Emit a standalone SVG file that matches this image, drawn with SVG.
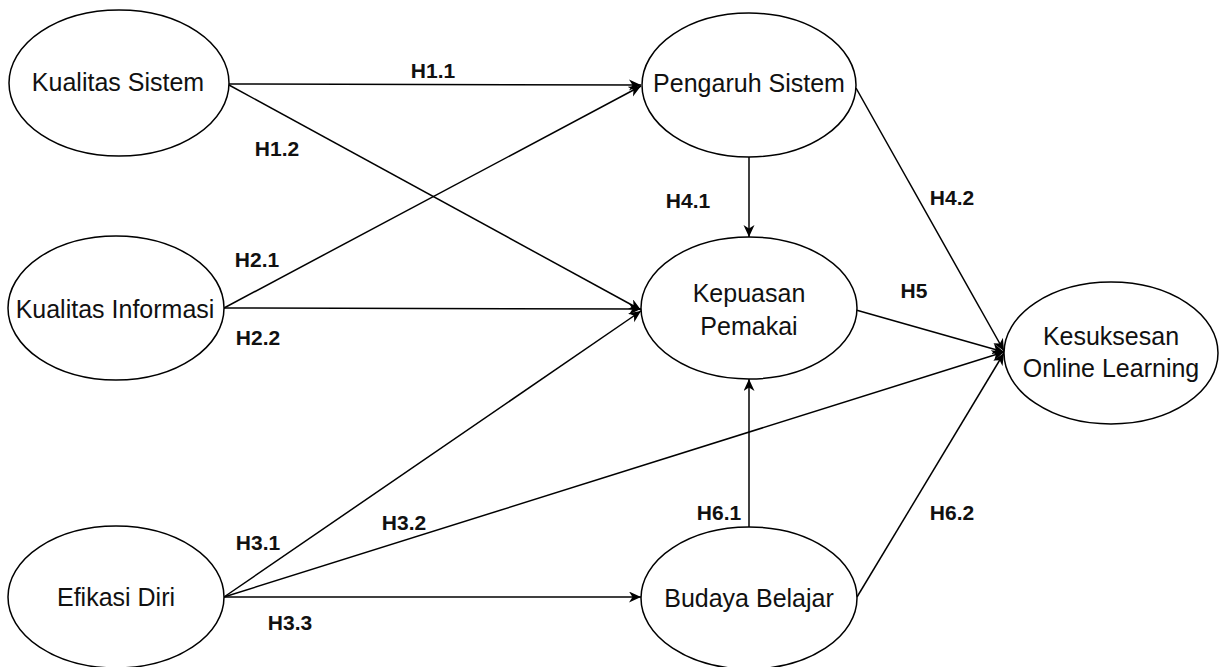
<svg xmlns="http://www.w3.org/2000/svg" width="1224" height="667" viewBox="0 0 1224 667">
  <style>
    .node ellipse { fill: #ffffff; stroke: #000000; stroke-width: 1.5; }
    .node text { font-family: "Liberation Sans", Arial, sans-serif; font-size: 25px; fill: #111111; text-anchor: middle; dominant-baseline: central; }
    .edge { fill: none; stroke: #000000; stroke-width: 1.5; marker-end: url(#arrow); }
    .lbl { font-family: "Liberation Sans", Arial, sans-serif; font-size: 21px; font-weight: bold; fill: #111111; text-anchor: middle; dominant-baseline: central; }
  </style>
  <defs>
    <marker id="arrow" markerUnits="userSpaceOnUse" markerWidth="14" markerHeight="12" refX="12" refY="5.5" orient="auto">
      <path d="M0,0 L12,5.5 L0,11 L3.5,5.5 z" fill="#000000"/>
    </marker>
  </defs>
  <rect width="1224" height="667" fill="#ffffff"/>

  <!-- connectors -->
  <g id="connectors">
    <line class="edge" x1="229" y1="84" x2="641" y2="85"/>
    <line class="edge" x1="229" y1="85" x2="641" y2="310"/>
    <line class="edge" x1="224" y1="308" x2="641" y2="86"/>
    <line class="edge" x1="224" y1="308" x2="641" y2="309"/>
    <line class="edge" x1="224" y1="597" x2="641" y2="311"/>
    <line class="edge" x1="224" y1="597" x2="1004" y2="352"/>
    <line class="edge" x1="224" y1="597" x2="641" y2="597"/>
    <line class="edge" x1="749" y1="156" x2="749" y2="237"/>
    <line class="edge" x1="856" y1="88" x2="1004" y2="351"/>
    <line class="edge" x1="856" y1="310" x2="1004" y2="352"/>
    <line class="edge" x1="749" y1="527" x2="749" y2="379"/>
    <line class="edge" x1="857" y1="597" x2="1004" y2="353"/>

    <text class="lbl" x="433" y="70">H1.1</text>
    <text class="lbl" x="277" y="148">H1.2</text>
    <text class="lbl" x="257" y="259">H2.1</text>
    <text class="lbl" x="258" y="337">H2.2</text>
    <text class="lbl" x="258" y="542">H3.1</text>
    <text class="lbl" x="404" y="522">H3.2</text>
    <text class="lbl" x="290" y="622">H3.3</text>
    <text class="lbl" x="688" y="200">H4.1</text>
    <text class="lbl" x="952" y="197">H4.2</text>
    <text class="lbl" x="914" y="290">H5</text>
    <text class="lbl" x="719" y="512">H6.1</text>
    <text class="lbl" x="952" y="512">H6.2</text>
  </g>

  <!-- nodes -->
  <g id="kualitas-sistem" class="node">
    <ellipse cx="119" cy="83" rx="110" ry="73"/>
    <text x="118" y="82">Kualitas Sistem</text>
  </g>
  <g id="kualitas-informasi" class="node">
    <ellipse cx="116" cy="308" rx="108" ry="72"/>
    <text x="115" y="309">Kualitas Informasi</text>
  </g>
  <g id="efikasi-diri" class="node">
    <ellipse cx="116" cy="597" rx="108" ry="71"/>
    <text x="116" y="597">Efikasi Diri</text>
  </g>
  <g id="pengaruh-sistem" class="node">
    <ellipse cx="749" cy="85" rx="107" ry="72"/>
    <text x="749" y="83">Pengaruh Sistem</text>
  </g>
  <g id="kepuasan-pemakai" class="node">
    <ellipse cx="749" cy="308" rx="108" ry="71"/>
    <text x="749" y="293">Kepuasan</text>
    <text x="749" y="326">Pemakai</text>
  </g>
  <g id="budaya-belajar" class="node">
    <ellipse cx="749" cy="598" rx="108" ry="71"/>
    <text x="749" y="598">Budaya Belajar</text>
  </g>
  <g id="kesuksesan-online-learning" class="node">
    <ellipse cx="1111" cy="353" rx="107" ry="71"/>
    <text x="1111" y="336">Kesuksesan</text>
    <text x="1111" y="368">Online Learning</text>
  </g>
</svg>
